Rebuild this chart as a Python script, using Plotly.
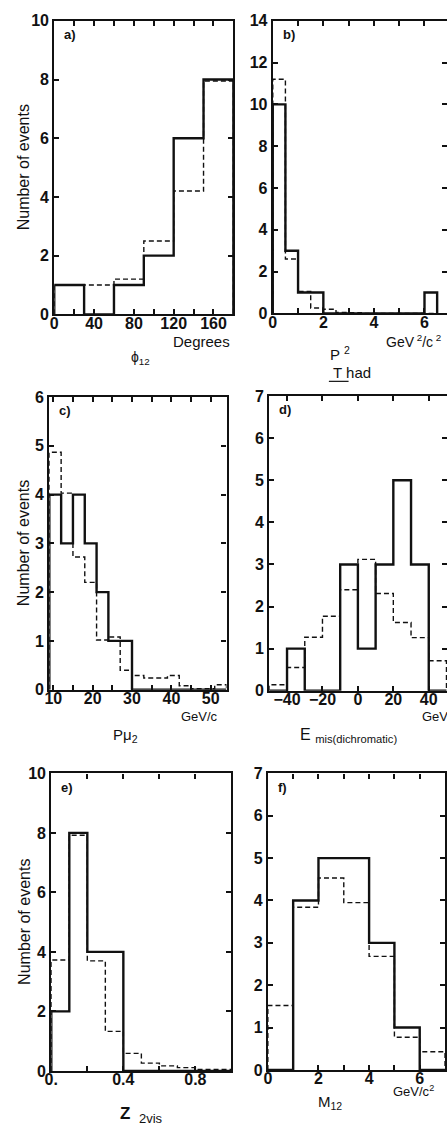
import plotly.graph_objects as go

W, H = 447, 1140

# ---- data: bin edges, measured events (solid) and Monte Carlo expectation (dashed) ----
phi_edges = [0, 30, 60, 90, 120, 150, 180]
phi_data = [1, 0, 1, 2, 6, 8]
phi_mc = [1.0, 1.0, 1.2, 2.5, 4.2, 7.95]

pt2_edges = [0, 0.5, 1.0, 1.5, 2.0, 2.5, 3.0, 3.5, 4.0, 4.5, 5.0, 5.5, 6.0, 6.5]
pt2_data = [10, 3, 1, 1, 0, 0, 0, 0, 0, 0, 0, 0, 1]
pt2_mc = [11.2, 2.6, 1.05, 0.26, 0.2, 0.05, 0.03, 0, 0, 0, 0, 0, 0]

pmu_edges = [9, 12, 15, 18, 21, 24, 27, 30, 33, 36, 39, 42, 45, 48, 51, 54]
pmu_data = [4, 3, 4, 3, 2, 1, 1, 0, 0, 0, 0, 0, 0, 0, 0]
pmu_mc = [4.87, 4.03, 2.72, 2.2, 1.02, 1.08, 0.4, 0.29, 0.24, 0.24, 0.29, 0.08, 0.02, 0.02, 0.1]

emis_edges = [-50, -40, -30, -20, -10, 0, 10, 20, 30, 40, 50]
emis_data = [0, 1, 0, 0, 3, 1, 3, 5, 3, 0]
emis_mc = [0.14, 0.55, 1.27, 1.77, 2.4, 3.12, 2.31, 1.62, 1.26, 0.71]

z_edges = [0, 0.1, 0.2, 0.3, 0.4, 0.5, 0.6, 0.7, 0.8, 0.9, 1.0]
z_data = [2, 8, 4, 4, 0, 0, 0, 0, 0, 0]
z_mc = [3.73, 7.92, 3.7, 1.33, 0.59, 0.26, 0.17, 0.11, 0.05, 0.05]

m_edges = [0, 1, 2, 3, 4, 5, 6, 7]
m_data = [0, 4, 5, 5, 3, 1, 0]
m_mc = [1.52, 3.84, 4.53, 3.95, 2.68, 0.77, 0.43]

# ---- page geometry (pixels) ----
panels = [
    dict(edges=phi_edges, data=phi_data, mc=phi_mc, px=(48, 230), py=(13, 311),
         xr=[0, 180], yr=[0, 10],
         xt=list(range(0, 181, 20)), xtt=["0", "", "40", "", "80", "", "120", "", "160", ""],
         yt=[0, 2, 4, 6, 8, 10], open_right=False, tag="a)"),
    dict(edges=pt2_edges, data=pt2_data, mc=pt2_mc, px=(270, 447), py=(13, 310),
         xr=[0, 6.89], yr=[0, 14],
         xt=[0, 1, 2, 3, 4, 5, 6], xtt=["0", "", "2", "", "4", "", "6"],
         yt=[0, 2, 4, 6, 8, 10, 12, 14], open_right=True, tag="b)"),
    dict(edges=pmu_edges, data=pmu_data, mc=pmu_mc, px=(43, 223), py=(395, 692),
         xr=[9, 54], yr=[0, 6],
         xt=[10, 15, 20, 25, 30, 35, 40, 45, 50], xtt=["10", "", "20", "", "30", "", "40", "", "50"],
         yt=[0, 1, 2, 3, 4, 5, 6], open_right=False, tag="c)"),
    dict(edges=emis_edges, data=emis_data, mc=emis_mc, px=(266.5, 447), py=(394, 693),
         xr=[-50, 50.3], yr=[0, 7],
         xt=[-40, -20, 0, 20, 40], xtt=["\u221240", "\u221220", "0", "20", "40"],
         yt=[0, 1, 2, 3, 4, 5, 6, 7], open_right=True, tag="d)"),
    dict(edges=z_edges, data=z_data, mc=z_mc, px=(45, 228), py=(777, 1079),
         xr=[0, 1.0], yr=[0, 10],
         xt=[0, 0.2, 0.4, 0.6, 0.8, 1.0], xtt=["0.", "", "0.4", "", "0.8", ""],
         yt=[0, 2, 4, 6, 8, 10], open_right=False, tag="e)"),
    dict(edges=m_edges, data=m_data, mc=m_mc, px=(265, 445), py=(777, 1078),
         xr=[0, 7], yr=[0, 7],
         xt=[0, 1, 2, 3, 4, 5, 6, 7], xtt=["0", "", "2", "", "4", "", "6", ""],
         yt=[0, 1, 2, 3, 4, 5, 6, 7], open_right=False, tag="f)"),
]

FONT = "Liberation Sans, Arial, sans-serif"
INK = "#111111"
TICKFONT = dict(size=16, color=INK, weight="bold")


def fx(p):
    return p / W


def fy(p):
    return 1 - p / H


def step(edges, vals):
    xs = [edges[0]] + list(edges) + [edges[-1]]
    ys = [0] + list(vals) + [vals[-1], 0]
    return xs, ys


fig = go.Figure()
layout = dict(
    width=W, height=H, margin=dict(l=0, r=0, t=0, b=0),
    paper_bgcolor="white", plot_bgcolor="white", showlegend=False,
    font=dict(family=FONT, size=15, color=INK),
)

annotations = []
shapes = []

for i, p in enumerate(panels, start=1):
    xa = "xaxis" if i == 1 else f"xaxis{i}"
    ya = "yaxis" if i == 1 else f"yaxis{i}"
    xr = "x" if i == 1 else f"x{i}"
    yr = "y" if i == 1 else f"y{i}"

    xs, ys = step(p["edges"], p["mc"])
    fig.add_trace(go.Scatter(x=xs, y=ys, mode="lines", line_shape="hv",
                             line=dict(color=INK, width=1.4, dash="5px,3px"),
                             xaxis=xr, yaxis=yr, hoverinfo="skip"))
    xs, ys = step(p["edges"], p["data"])
    fig.add_trace(go.Scatter(x=xs, y=ys, mode="lines", line_shape="hv",
                             line=dict(color=INK, width=2.4),
                             xaxis=xr, yaxis=yr, hoverinfo="skip"))

    layout[xa] = dict(
        domain=[fx(p["px"][0]), fx(p["px"][1])], range=p["xr"], anchor=yr,
        showline=True, linecolor=INK, linewidth=2.2, mirror="ticks",
        ticks="inside", ticklen=5, tickwidth=1.5, tickcolor=INK,
        tickmode="array", tickvals=p["xt"], ticktext=p["xtt"],
        ticklabelstandoff=-7,
        showgrid=False, zeroline=False, tickfont=TICKFONT,
    )
    layout[ya] = dict(
        domain=[fy(p["py"][1]), fy(p["py"][0])], range=p["yr"], anchor=xr,
        showline=True, linecolor=INK, linewidth=2.2,
        mirror=False if p["open_right"] else "ticks",
        ticks="inside", ticklen=5, tickwidth=1.5, tickcolor=INK,
        tickmode="array", tickvals=p["yt"],
        showgrid=False, zeroline=False, tickfont=TICKFONT,
    )
    annotations.append(dict(text="<b>" + p["tag"] + "</b>", x=fx(p["px"][0] + 8),
                            y=fy(p["py"][0] + 14),
                            xref="paper", yref="paper", xanchor="left", yanchor="middle",
                            showarrow=False, font=dict(size=13, color=INK)))

# right-hand tick rows for the panels whose frame runs off the page edge
for j, (host_x, host_y, idx) in enumerate([("x2", "y2", 2), ("x4", "y4", 4)]):
    k = 7 + j
    p = panels[idx - 1]
    layout[f"yaxis{k}"] = dict(
        overlaying=host_y, anchor=host_x, side="right", range=p["yr"],
        showline=False, ticks="inside", ticklen=5, tickwidth=1.5, tickcolor=INK,
        tickmode="array", tickvals=p["yt"], showticklabels=False,
        showgrid=False, zeroline=False,
    )
    fig.add_trace(go.Scatter(x=[None], y=[None], xaxis=host_x, yaxis=f"y{k}",
                             mode="lines", hoverinfo="skip"))

# y-axis titles on the left column
for p in (panels[0], panels[2], panels[4]):
    annotations.append(dict(text="Number of events", x=fx(17), y=fy((p["py"][0] + p["py"][1]) / 2),
                            xref="paper", yref="paper", textangle=-90, showarrow=False,
                            xanchor="center", yanchor="middle",
                            font=dict(size=16, color=INK)))


def label(text, x, y, size=14, xanchor="center"):
    annotations.append(dict(text=text, x=fx(x), y=fy(y), xref="paper", yref="paper",
                            xanchor=xanchor, yanchor="middle", showarrow=False,
                            font=dict(size=size, color=INK)))


# panel a
label("Degrees", 198, 339, size=15)
label("\u03d5<sub>12</sub>", 136, 355)
# panel b
label("GeV<sup> 2</sup>/c<sup> 2</sup>", 383, 338, size=14, xanchor="left")
label("P <sup>2</sup>", 338, 351, size=15)
label("T had", 329, 370, size=15, xanchor="left")
shapes.append(dict(type="line", xref="paper", yref="paper",
                   x0=fx(327), x1=fx(347), y0=fy(379), y1=fy(379),
                   line=dict(color=INK, width=1.2)))
# panel c
label("GeV/c", 196, 719, size=13)
label("P\u03bc<sub>2</sub>", 120, 739, size=15)
# panel d
label("GeV", 420, 719, size=13, xanchor="left")
label("E <sub>mis(dichromatic)</sub>", 296, 739, size=16, xanchor="left")
# panel e
label("<b>Z</b>", 120, 1122, size=17)
label("2vis", 132, 1127, size=13, xanchor="left")
# panel f
label("GeV/c<sup>2</sup>", 390, 1099, size=13, xanchor="left")
label("M<sub>12</sub>", 328, 1111, size=15)

layout["annotations"] = annotations
layout["shapes"] = shapes
fig.update_layout(**layout)

fig.write_html("out.html")
